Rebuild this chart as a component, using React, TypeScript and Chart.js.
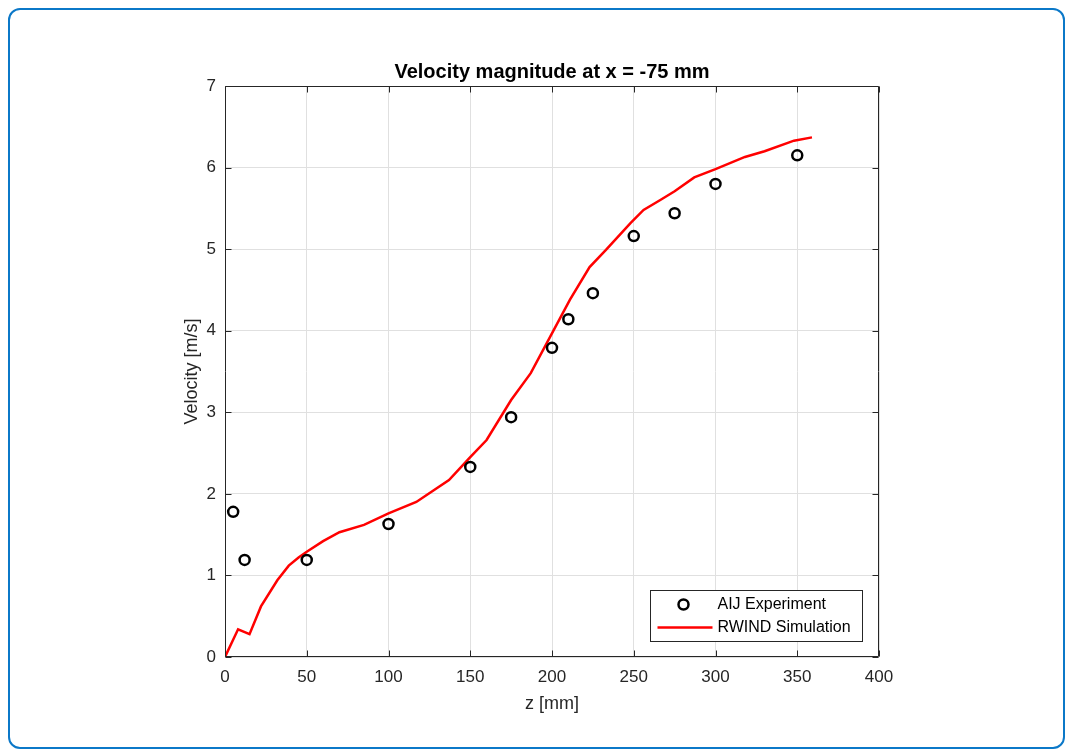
import React, { useEffect, useRef } from "react";
import { Chart, registerables } from "chart.js";

Chart.register(...registerables);

const TITLE = "Velocity magnitude at x = -75 mm";
const X_LABEL = "z [mm]";
const Y_LABEL = "Velocity [m/s]";

const expZ = [5, 12, 50, 100, 150, 175, 200, 210, 225, 250, 275, 300, 350];
const expV = [1.78, 1.19, 1.19, 1.63, 2.33, 2.94, 3.79, 4.14, 4.46, 5.16, 5.44, 5.8, 6.15];

const simZ = [0, 8, 15, 22, 32, 39, 45, 50, 60, 70, 85, 100, 117, 137, 150, 160, 175, 187, 199, 211, 223, 233, 248, 256, 266, 275, 287, 300, 318, 330, 348, 359];
const simV = [0, 0.34, 0.28, 0.62, 0.94, 1.12, 1.22, 1.29, 1.42, 1.53, 1.62, 1.76, 1.9, 2.17, 2.45, 2.66, 3.15, 3.48, 3.93, 4.38, 4.78, 4.99, 5.32, 5.48, 5.6, 5.71, 5.88, 5.98, 6.13, 6.2, 6.33, 6.37];

const seriesNames = ["AIJ Experiment", "RWIND Simulation"];

const FONT = "'Liberation Sans', Arial, Helvetica, sans-serif";
const AXIS_COLOR = "#262626";

const boxPlugin = {
  id: "matlabBox",
  afterDraw(chart: any) {
    const { ctx, chartArea } = chart;
    const { left, right, top, bottom } = chartArea;
    const xs = chart.scales.x;
    const ys = chart.scales.y;
    ctx.save();
    ctx.strokeStyle = AXIS_COLOR;
    ctx.lineWidth = 1;
    const L = Math.round(left) + 0.5;
    const R = Math.round(right) - 0.5;
    const T = Math.round(top) + 0.5;
    const B = Math.round(bottom) - 0.5;
    ctx.beginPath();
    ctx.rect(L, T, R - L, B - T);
    ctx.stroke();
    const tl = 6;
    ctx.beginPath();
    xs.ticks.forEach((t: any) => {
      const px = Math.round(xs.getPixelForValue(t.value)) + 0.5;
      ctx.moveTo(px, B);
      ctx.lineTo(px, B - tl);
      ctx.moveTo(px, T);
      ctx.lineTo(px, T + tl);
    });
    ys.ticks.forEach((t: any) => {
      const py = Math.round(ys.getPixelForValue(t.value)) + 0.5;
      ctx.moveTo(L, py);
      ctx.lineTo(L + tl, py);
      ctx.moveTo(R, py);
      ctx.lineTo(R - tl, py);
    });
    ctx.stroke();

    // title
    ctx.fillStyle = "#000";
    ctx.font = `bold 20px ${FONT}`;
    ctx.textAlign = "center";
    ctx.textBaseline = "middle";
    ctx.fillText(TITLE, (left + right) / 2, top - 14);

    // legend
    const lw = 212;
    const lh = 51;
    const lx = Math.round(right) - 229 + 0.5;
    const ly = Math.round(bottom) - 67 + 0.5;
    ctx.fillStyle = "#fff";
    ctx.fillRect(lx, ly, lw, lh);
    ctx.strokeStyle = AXIS_COLOR;
    ctx.lineWidth = 1;
    ctx.strokeRect(lx, ly, lw, lh);
    const ds = chart.data.datasets;
    ctx.beginPath();
    ctx.strokeStyle = ds[0].borderColor;
    ctx.lineWidth = ds[0].borderWidth;
    ctx.arc(lx + 33, ly + 14, ds[0].pointRadius, 0, Math.PI * 2);
    ctx.stroke();
    ctx.beginPath();
    ctx.strokeStyle = ds[1].borderColor;
    ctx.lineWidth = ds[1].borderWidth;
    ctx.moveTo(lx + 7, ly + 37);
    ctx.lineTo(lx + 62, ly + 37);
    ctx.stroke();
    ctx.fillStyle = "#000";
    ctx.font = `16px ${FONT}`;
    ctx.textAlign = "left";
    ctx.textBaseline = "middle";
    ctx.fillText(ds[0].label, lx + 67, ly + 14);
    ctx.fillText(ds[1].label, lx + 67, ly + 37);
    ctx.restore();
  },
};

export default function App() {
  const ref = useRef<HTMLCanvasElement | null>(null);
  useEffect(() => {
    if (!ref.current) return;
    const chart = new Chart(ref.current, {
      type: "scatter",
      data: {
        datasets: [
          {
            label: seriesNames[0],
            data: expZ.map((z, i) => ({ x: z, y: expV[i] })),
            showLine: false,
            pointRadius: 5,
            pointHoverRadius: 5,
            borderColor: "#000000",
            backgroundColor: "rgba(0,0,0,0)",
            borderWidth: 2.5,
            order: 0,
          },
          {
            label: seriesNames[1],
            data: simZ.map((z, i) => ({ x: z, y: simV[i] })),
            showLine: true,
            pointRadius: 0,
            borderColor: "#ff0000",
            backgroundColor: "#ff0000",
            borderWidth: 2.5,
            tension: 0,
            order: 1,
          },
        ],
      },
      options: {
        responsive: false,
        animation: false,
        layout: { padding: { left: 165, right: 184, top: 76, bottom: 30 } },
        plugins: {
          legend: { display: false },
          title: { display: false },
          tooltip: { enabled: false },
        },
        scales: {
          x: {
            type: "linear",
            min: 0,
            max: 400,
            ticks: {
              stepSize: 50,
              padding: 10,
              color: AXIS_COLOR,
              font: { family: FONT, size: 17 },
              maxRotation: 0,
            },
            grid: { color: "#e0e0e0", drawTicks: false },
            border: { display: false },
            title: {
              display: true,
              text: X_LABEL,
              color: AXIS_COLOR,
              font: { family: FONT, size: 18 },
              padding: { top: 0, bottom: 2 },
            },
            afterFit(scale: any) {
              scale.height = 60;
            },
          },
          y: {
            type: "linear",
            min: 0,
            max: 7,
            ticks: {
              stepSize: 1,
              padding: 9,
              color: AXIS_COLOR,
              font: { family: FONT, size: 17 },
            },
            grid: { color: "#e0e0e0", drawTicks: false },
            border: { display: false },
            title: {
              display: true,
              text: Y_LABEL,
              color: AXIS_COLOR,
              font: { family: FONT, size: 18 },
              padding: { top: 6, bottom: 0 },
            },
            afterFit(scale: any) {
              scale.width = 50;
            },
          },
        },
      },
      plugins: [boxPlugin],
    });
    return () => chart.destroy();
  }, []);

  return (
    <div
      style={{
        position: "fixed",
        left: 8,
        top: 8,
        width: 1057,
        height: 741,
        border: "2px solid #0b78c8",
        borderRadius: 12,
        boxSizing: "border-box",
        background: "#fff",
      }}
    >
      <canvas
        ref={ref}
        width={1053}
        height={737}
        style={{ position: "absolute", left: 0, top: 0, display: "block" }}
      />
    </div>
  );
}
